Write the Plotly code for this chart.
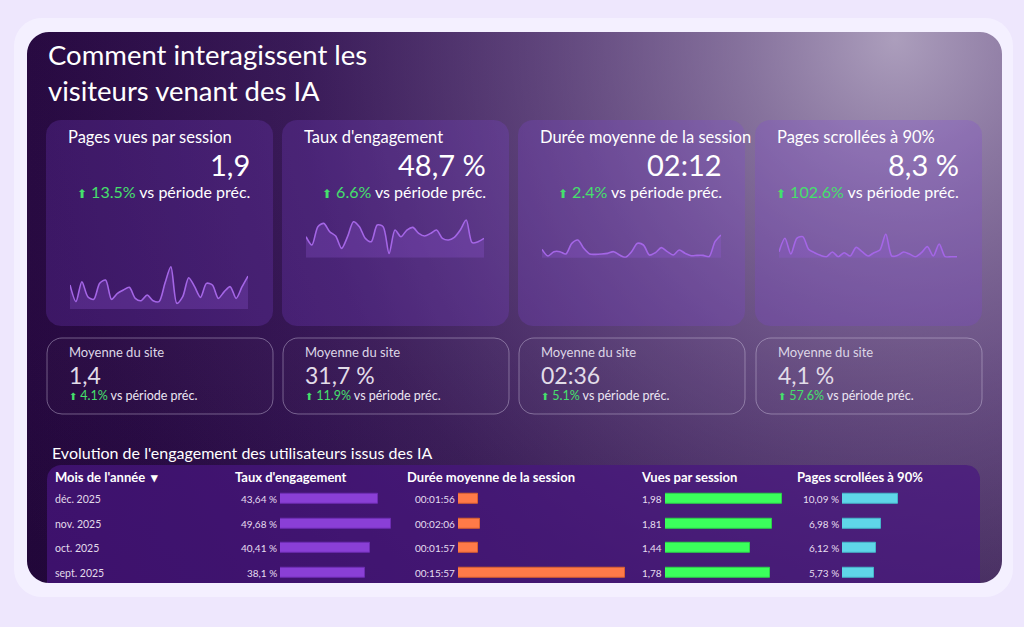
import math
import plotly.graph_objects as go

W, H = 1024, 627

# ---------------- data ----------------
kpi_titles = ["Pages vues par session", "Taux d'engagement",
              "Durée moyenne de la session", "Pages scrollées à 90%"]
kpi_values = ["1,9", "48,7 %", "02:12", "8,3 %"]
kpi_deltas = ["13.5%", "6.6%", "2.4%", "102.6%"]
site_label = "Moyenne du site"
site_values = ["1,4", "31,7 %", "02:36", "4,1 %"]
site_deltas = ["4.1%", "11.9%", "5.1%", "57.6%"]

spark_pages = [72, 22, 82, 37, 29, 77, 87, 29, 47, 57, 65, 32, 25, 42, 25, 22,
               77, 127, 17, 37, 94, 67, 35, 77, 72, 32, 52, 67, 32, 67, 99]
spark_engagement = [63, 38, 93, 103, 78, 65, 28, 63, 108, 93, 58, 48, 98, 93, 13,
                    83, 63, 83, 91, 73, 65, 73, 83, 58, 53, 61, 83, 113, 45, 48, 58]
spark_duree = [32, 12, 25, 25, 18, 50, 60, 35, 18, 17, 18, 20, 25, 15, 8, 25,
               50, 45, 15, 22, 37, 25, 15, 30, 20, 13, 14, 14, 10, 55, 75]
spark_scroll = [25, 65, 18, 65, 70, 32, 22, 14, 10, 24, 10, 22, 12, 38, 25, 12,
                22, 30, 78, 12, 14, 24, 18, 10, 22, 40, 12, 48, 10, 10, 10]

title_text = "Comment interagissent les<br>visiteurs venant des IA"
section_title = "Evolution de l'engagement des utilisateurs issus des IA"
table_headers = ["Mois de l'année  ▾", "Taux d'engagement", "Durée moyenne de la session",
                 "Vues par session", "Pages scrollées à 90%"]
months = ["déc. 2025", "nov. 2025", "oct. 2025", "sept. 2025"]
taux_engagement = [43.64, 49.68, 40.41, 38.1]
duree_sec = [116, 126, 117, 957]
vues_session = [1.98, 1.81, 1.44, 1.78]
pages_scroll = [10.09, 6.98, 6.12, 5.73]

# ---------------- style / geometry ----------------
FONT = "Lato"
GREEN = "#45e06c"
WHITE = "#ffffff"
PANEL = (27, 32, 1002, 583)
FRAME = (14, 18, 1013, 597)


def fx(px):
    return px / W


def fy(py):
    return 1 - py / H


def arc(cx, cy, r, a0, a1, n=10):
    return [(cx + r * math.cos(a0 + (a1 - a0) * i / n),
             cy + r * math.sin(a0 + (a1 - a0) * i / n)) for i in range(n + 1)]


def rr_pts(x0, y0, x1, y1, r):
    pts = []
    pts += arc(x0 + r, y0 + r, r, math.pi, 1.5 * math.pi)
    pts += arc(x1 - r, y0 + r, r, 1.5 * math.pi, 2 * math.pi)
    pts += arc(x1 - r, y1 - r, r, 0, 0.5 * math.pi)
    pts += arc(x0 + r, y1 - r, r, 0.5 * math.pi, math.pi)
    pts.append(pts[0])
    return pts


fig = go.Figure()

px0, py0, px1, py1 = PANEL


def deco(pts, fill=None, line=None, lw=0, **kw):
    xs = [p[0] for p in pts]
    ys = [p[1] for p in pts]
    fig.add_trace(go.Scatter(
        x=xs, y=ys, mode="lines", fill="toself" if fill or kw.get("fillgradient") else "none",
        fillcolor=fill, line=dict(color=line or "rgba(0,0,0,0)", width=lw),
        hoverinfo="skip", showlegend=False, xaxis="x", yaxis="y", **kw))


rect = [(px0, py0), (px1, py0), (px1, py1), (px0, py1), (px0, py0)]
# panel base (horizontal gradient)
deco(rect, fillgradient=dict(type="horizontal", start=px0, stop=px1,
                             colorscale=[[0, "#26083f"], [0.3, "#2c0c4a"], [1, "#46295f"]]))
# bottom darkening
deco(rect, fillgradient=dict(type="vertical", start=py0, stop=py1,
                             colorscale=[[0, "rgba(20,5,40,0)"], [0.55, "rgba(20,5,40,0)"],
                                         [1, "rgba(20,5,40,0.25)"]]))
# top-right glow
glow = arc(895, 40, 1000, 0, 2 * math.pi, 160)
deco(glow, fillgradient=dict(type="radial",
                             colorscale=[[0, "rgba(198,188,212,0.80)"],
                                         [0.15, "rgba(180,166,200,0.62)"],
                                         [0.35, "rgba(160,140,188,0.40)"],
                                         [0.6, "rgba(135,110,170,0.15)"],
                                         [0.85, "rgba(120,90,160,0.03)"],
                                         [1, "rgba(120,90,160,0)"]]))

card_x = [46, 282, 518, 755]
card_w = 227
for cx in card_x:
    deco(rr_pts(cx, 120, cx + card_w, 326, 15), fill="rgba(130,68,220,0.23)")

box_x = [47, 283, 519, 756]
box_w = 226
for bx in box_x:
    deco(rr_pts(bx, 338, bx + box_w, 414, 15), fill="rgba(255,255,255,0.015)",
         line="rgba(215,205,230,0.42)", lw=1)

# table background
deco(rr_pts(47, 465, 980, 640, 14), fill="rgba(72,22,128,0.72)")

# ---------------- sparklines ----------------
sparks = [
    (spark_pages, (70, 248, 265.7, 309.0), (0, 130)),
    (spark_engagement, (306, 484, 217.7, 257.7), (0, 120)),
    (spark_duree, (542, 721, 233.3, 257.7), (7, 80)),
    (spark_scroll, (779, 957, 233.3, 257.7), (7, 80)),
]
for i, (vals, (sx0, sx1, sy0, sy1), yr) in enumerate(sparks):
    n = i + 2
    fig.add_trace(go.Scatter(
        x=list(range(len(vals))), y=vals, mode="lines",
        line=dict(color="#a466e6", width=1.6, shape="spline", smoothing=0.8),
        fill="tozeroy", fillcolor="rgba(150,90,225,0.25)",
        hoverinfo="skip", showlegend=False, xaxis=f"x{n}", yaxis=f"y{n}"))
    fig.update_layout(**{
        f"xaxis{n}": dict(domain=[fx(sx0), fx(sx1)], range=[0, len(vals) - 1], visible=False,
                          fixedrange=True, anchor=f"y{n}"),
        f"yaxis{n}": dict(domain=[fy(sy1), fy(sy0)], range=list(yr), visible=False,
                          fixedrange=True, anchor=f"x{n}"),
    })

# ---------------- table bars ----------------
row_top = 486.75
row_h = 24.5
rows = list(range(len(months)))
bar_cols = [
    (taux_engagement, (280, 391), "#8a3fd6", "#6e2cb3",
     lambda v: f"{v:g}".replace(".", ",") + " %"),
    (duree_sec, (458, 625), "#ff7a48", "#d9602f",
     lambda v: f"00:{int(v) // 60:02d}:{int(v) % 60:02d}"),
    (vues_session, (665, 782), "#3bff5c", "#2bd24a",
     lambda v: f"{v:g}".replace(".", ",")),
    (pages_scroll, (842, 898), "#5fd6e8", "#45b5c9",
     lambda v: f"{v:g}".replace(".", ",") + " %"),
]
annotations = []
for j, (vals, (bx0, bx1), col, lcol, fmt) in enumerate(bar_cols):
    n = j + 6
    fig.add_trace(go.Bar(
        x=vals, y=rows, orientation="h", width=0.42,
        marker=dict(color=col, line=dict(color=lcol, width=1)),
        hoverinfo="skip", showlegend=False, xaxis=f"x{n}", yaxis=f"y{n}"))
    fig.update_layout(**{
        f"xaxis{n}": dict(domain=[fx(bx0), fx(bx1)], range=[0, max(vals)], visible=False,
                          fixedrange=True, anchor=f"y{n}"),
        f"yaxis{n}": dict(domain=[fy(row_top + row_h * len(rows)), fy(row_top)],
                          range=[len(rows) - 0.5, -0.5], visible=False,
                          fixedrange=True, anchor=f"x{n}"),
    })
    for r, v in zip(rows, vals):
        annotations.append(dict(xref=f"x{n}", yref=f"y{n}", x=0, y=r, text=fmt(v),
                                xanchor="right", yanchor="middle", xshift=-1,
                                font=dict(family=FONT, size=10, color="#e6def0")))


# ---------------- texts ----------------
def ann(x, y, text, size, color=WHITE, xanchor="left", yanchor="middle"):
    annotations.append(dict(xref="x", yref="y", x=x, y=y, text=text, showarrow=False,
                            xanchor=xanchor, yanchor=yanchor, align=xanchor,
                            font=dict(family=FONT, size=size, color=color)))


def delta_text(d, arrow_size, text_color):
    return (f"<span style='font-size:{arrow_size}px;color:{GREEN}'>⬆</span> "
            f"<span style='color:{GREEN}'>{d}</span>"
            f"<span style='color:{text_color}'> vs période préc.</span>")


ann(46, 72, title_text, 27.5)

for i, cx in enumerate(card_x):
    right = cx + 206
    ann(cx + 20, 137, kpi_titles[i], 16.5)
    ann(right, 164, kpi_values[i], 29, xanchor="right")
    ann(right, 191, delta_text(kpi_deltas[i], 12, WHITE), 16, xanchor="right")

for i, bx in enumerate(box_x):
    ann(bx + 20, 352, site_label, 13, color="#ddd6e6")
    ann(bx + 20, 375, site_values[i], 23, color="#e2dce8")
    ann(bx + 20, 395, delta_text(site_deltas[i], 9.5, "#ece6f2"), 12.5, color="#ece6f2")

ann(50, 452, section_title, 16)

header_x = [53, 233, 405, 639, 795]
for hx, h in zip(header_x, table_headers):
    ann(hx, 477, f"<b>{h}</b>", 13)
for r, m in zip(rows, months):
    ann(53, row_top + row_h * (r + 0.5), m, 10.5, color="#e2dbea")

# ---------------- layout ----------------
shapes = []
fpts = rr_pts(*FRAME, 28)
shapes.append(dict(type="path", xref="paper", yref="paper", layer="below",
                   path="M " + " L ".join(f"{fx(a):.5f},{fy(b):.5f}" for a, b in fpts) + " Z",
                   fillcolor="#f4f0ff", line=dict(width=0)))
# panel corner patches (restore rounded corners over gradient)
R = 22
corners = [
    ((px0, py0), arc(px0 + R, py0 + R, R, math.pi, 1.5 * math.pi)),
    ((px1, py0), arc(px1 - R, py0 + R, R, 1.5 * math.pi, 2 * math.pi)),
    ((px1, py1), arc(px1 - R, py1 - R, R, 0, 0.5 * math.pi)),
    ((px0, py1), arc(px0 + R, py1 - R, R, 0.5 * math.pi, math.pi)),
]
for (cxp, cyp), apts in corners:
    pts = [(cxp, cyp)] + apts
    shapes.append(dict(type="path", xref="x", yref="y", layer="above",
                       path="M " + " L ".join(f"{a:.2f},{b:.2f}" for a, b in pts) + " Z",
                       fillcolor="#f4f0ff", line=dict(width=0)))

fig.update_layout(
    width=W, height=H, margin=dict(l=0, r=0, t=0, b=0),
    paper_bgcolor="#eee7fd", plot_bgcolor="rgba(0,0,0,0)",
    showlegend=False, bargap=0,
    xaxis=dict(domain=[fx(px0), fx(px1)], range=[px0, px1], visible=False, fixedrange=True),
    yaxis=dict(domain=[fy(py1), fy(py0)], range=[py1, py0], visible=False, fixedrange=True),
    annotations=[dict(a, showarrow=False) for a in annotations],
    shapes=shapes,
    font=dict(family=FONT, color=WHITE),
)

fig.write_html("out.html", config=dict(displayModeBar=False),
               post_script="document.body.style.margin='0';document.body.style.overflow='hidden';")
